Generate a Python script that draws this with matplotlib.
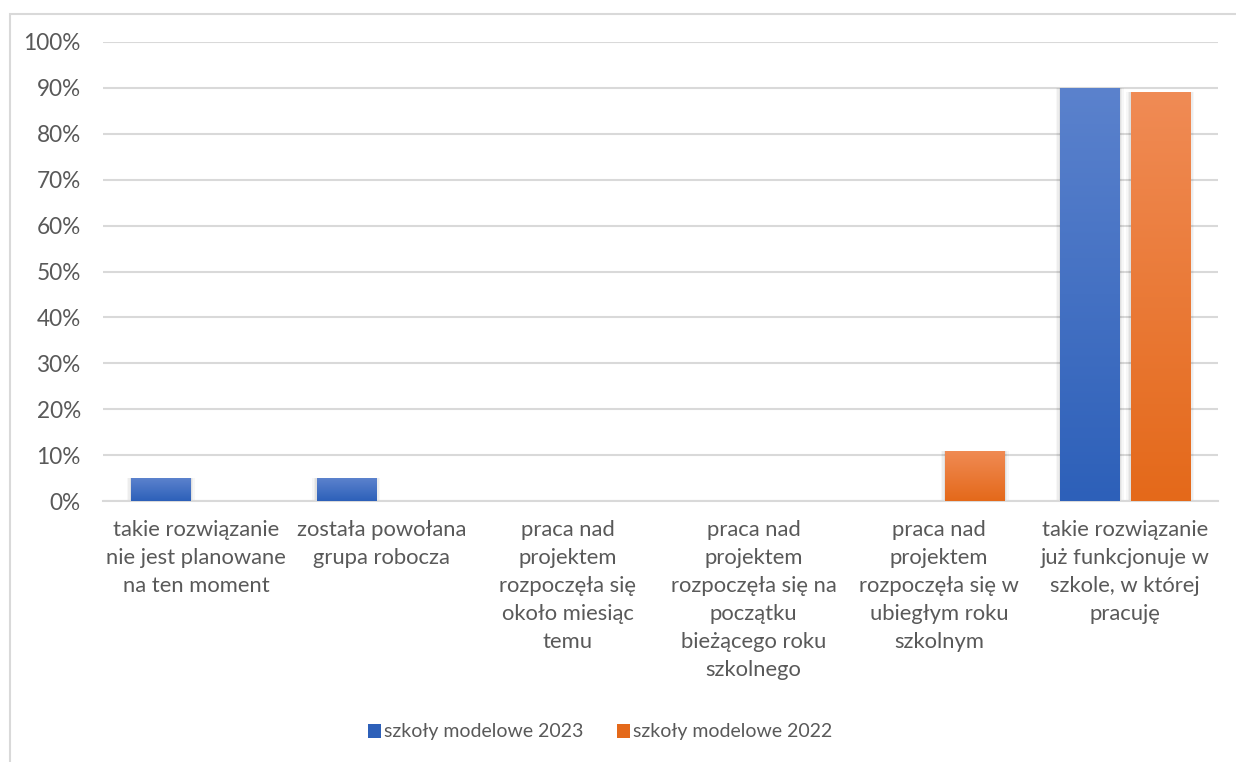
import numpy as np
import matplotlib
matplotlib.use('Agg')
import matplotlib.pyplot as plt
from matplotlib.patches import Rectangle
from matplotlib.colors import LinearSegmentedColormap
from matplotlib.ticker import PercentFormatter

plt.rcParams['font.family'] = ['Lato', 'DejaVu Sans']

categories = [
    "takie rozwiązanie\nnie jest planowane\nna ten moment",
    "została powołana\ngrupa robocza",
    "praca nad\nprojektem\nrozpoczęła się\nokoło miesiąc\ntemu",
    "praca nad\nprojektem\nrozpoczęła się na\npoczątku\nbieżącego roku\nszkolnego",
    "praca nad\nprojektem\nrozpoczęła się w\nubiegłym roku\nszkolnym",
    "takie rozwiązanie\njuż funkcjonuje w\nszkole, w której\npracuję",
]
series_names = ["szkoły modelowe 2023", "szkoły modelowe 2022"]
vals_2023 = [5, 5, 0, 0, 0, 90]
vals_2022 = [0, 0, 0, 0, 11, 89]

# gradient (top, bottom) per series
grad_colors = [("#5B82CD", "#2D60B9"), ("#F08B55", "#E4691A")]
text_col = "#595959"
grid_col = "#D9D9D9"

fig = plt.figure(figsize=(12.36, 7.62), dpi=100)
ax = fig.add_axes([103 / 1236, 1 - 501 / 762, (1218 - 103) / 1236, (501 - 42) / 762])

x = np.arange(len(categories))
width = 0.318
offset = 0.19

def grad_bar(ax, xc, h, cols):
    if h <= 0:
        return
    x0 = xc - width / 2
    # soft shadow
    for k, a in enumerate([0.05, 0.04, 0.03]):
        d = 0.008 * (k + 1)
        ax.add_patch(Rectangle((x0 - d, -0.3 - d * 3), width + 2 * d, h + 0.3 + d * 3,
                               facecolor='black', alpha=a, edgecolor='none', zorder=2))
    rect = Rectangle((x0, 0), width, h, facecolor='none', edgecolor='none', zorder=3)
    ax.add_patch(rect)
    cmap = LinearSegmentedColormap.from_list('g', [cols[1], cols[0]])
    grad = np.linspace(0, 1, 256).reshape(-1, 1)
    im = ax.imshow(grad, cmap=cmap, origin='lower', aspect='auto',
                   extent=[x0, x0 + width, 0, h], zorder=3)
    im.set_clip_path(rect)

for xi, v in zip(x, vals_2023):
    grad_bar(ax, xi - offset, v, grad_colors[0])
for xi, v in zip(x, vals_2022):
    grad_bar(ax, xi + offset, v, grad_colors[1])

ax.set_xlim(-0.5, len(categories) - 0.5)
ax.set_ylim(0, 100)
ax.set_yticks(np.arange(0, 101, 10))
ax.yaxis.set_major_formatter(PercentFormatter(decimals=0))
ax.grid(axis='y', color=grid_col, linewidth=1.5, zorder=0)
ax.set_axisbelow(True)
for s in ['top', 'right', 'left']:
    ax.spines[s].set_visible(False)
ax.spines['bottom'].set_color(grid_col)
ax.spines['bottom'].set_linewidth(1.5)
ax.tick_params(axis='y', length=0, pad=16, labelsize=16.3, labelcolor=text_col)
ax.tick_params(axis='x', length=0, pad=14)
ax.set_xticks(x)
ax.set_xticklabels(categories, fontsize=15.8, color=text_col, linespacing=1.5, va='top')

# legend
handles = [Rectangle((0, 0), 1, 1, facecolor=c[1]) for c in grad_colors]
fig.legend(handles, series_names, loc='center', bbox_to_anchor=(600 / 1236, 1 - 732 / 762),
           ncol=2, frameon=False, fontsize=14, labelcolor=text_col,
           handlelength=0.7, handleheight=0.7, handletextpad=0.15, columnspacing=1.7)

# chart border
fig.add_artist(Rectangle((10 / 1236, -0.1), 1.2, 1 - 14 / 762 + 0.1, transform=fig.transFigure,
                         facecolor='none', edgecolor=grid_col, linewidth=1.5))

fig.savefig('out.png', dpi=100)
